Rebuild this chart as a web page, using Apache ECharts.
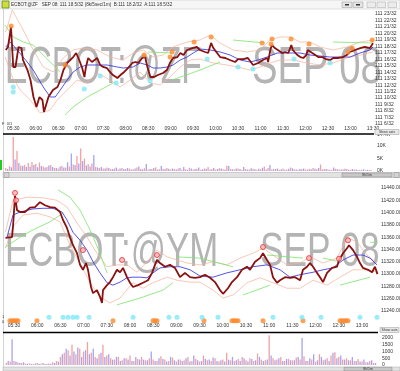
<!DOCTYPE html>
<html><head><meta charset="utf-8">
<script src="https://cdn.jsdelivr.net/npm/echarts@6/dist/echarts.min.js"></script>
<style>html,body{margin:0;padding:0;background:#fff;overflow:hidden}#c{width:400px;height:371px}</style>
</head><body><div id="c"></div><script>
// ---------- DATA (time in minutes since midnight) ----------
// Top panel: ECBOT:@ZF SEP 08, price in 32nds above 111
const zfPrice = [[320,17.44],[323,17.90],[327,21.0],[330,14.81],[333,14.81],[337,17.90],[341,17.74],[343,15.89],[349,14.34],[353,12.80],[357,10.17],[361,8.63],[365,10.17],[369,9.71],[371,7.85],[377,10.17],[383,11.25],[389,11.72],[393,12.80],[397,14.34],[402,15.43],[406,15.89],[410,16.35],[414,16.97],[418,15.89],[422,14.65],[425,13.26],[427,14.81],[430,16.20],[435,15.58],[442,16.20],[446,15.12],[450,14.81],[455,14.65],[459,14.04],[463,13.57],[469,13.11],[473,13.57],[478,14.04],[483,14.65],[489,15.43],[493,15.58],[497,15.43],[502,16.20],[506,16.35],[509,14.81],[513,13.26],[518,13.26],[523,13.57],[530,13.88],[535,14.34],[539,15.43],[543,16.20],[549,16.35],[553,16.97],[557,16.66],[562,17.44],[569,17.74],[575,17.90],[579,17.44],[586,17.13],[590,16.97],[594,18.52],[597,17.74],[602,16.97],[606,16.35],[613,16.20],[619,15.89],[626,15.58],[630,16.04],[637,16.04],[643,16.20],[650,15.12],[657,15.43],[663,15.89],[669,16.20],[670,15.58],[673,17.44],[675,18.21],[679,17.74],[683,17.44],[689,16.97],[693,17.13],[697,16.97],[701,18.21],[703,17.44],[709,16.66],[713,16.35],[717,16.20],[721,16.66],[723,17.44],[729,16.97],[733,16.66],[737,16.35],[742,16.35],[747,16.04],[753,15.89],[757,16.20],[763,16.20],[770,16.35],[775,16.66],[779,17.13],[786,17.44],[793,17.74],[799,17.90],[806,17.74],[810,18.5]];
const zfUpper = [[319.3,20.22],[322,20.99],[328.7,23.62],[343.3,20.53],[356.7,17.44],[370,14.81],[383.3,14.04],[396.7,16.20],[410,17.44],[423.3,17.74],[442,17.44],[459.3,16.35],[476.7,15.89],[490,16.97],[503.3,17.44],[516.7,16.35],[530,16.66],[543.3,17.90],[562,18.67],[579.3,18.98],[592.7,19.75],[606,18.52],[623.3,17.44],[642,17.13],[659.3,17.44],[672.7,18.98],[686,19.45],[699.3,19.45],[712.7,18.67],[726,18.67],[739.3,17.90],[756.7,17.44],[775.3,17.90],[792.7,18.67],[810,18.98]];
const zfLower = [[319.3,16.35],[328.7,13.26],[339.3,11.25],[352.7,9.71],[366,7.70],[379.3,8.16],[388.7,9.71],[402,11.25],[415.3,12.80],[428.7,12.34],[442,13.88],[459.3,12.80],[472.7,11.72],[486,12.80],[499.3,14.04],[512.7,12.34],[526,12.03],[539.3,13.26],[552.7,14.81],[566,15.89],[579.3,16.04],[596.7,15.43],[615.3,15.12],[628.7,14.81],[646,14.34],[659.3,14.81],[672.7,15.43],[686,15.89],[703.3,15.89],[722,15.43],[739.3,15.12],[756.7,15.43],[775.3,16.20],[792.7,16.66],[810,17.13]];
const zfAvg = [[320,17.90],[326,18.67],[335.3,17.44],[348.7,15.58],[356.7,14.34],[370,11.72],[379.3,10.17],[386,10.17],[392.7,11.25],[402,12.80],[410,14.04],[419.3,14.81],[428.7,15.12],[442,15.12],[455.3,15.12],[468.7,14.81],[476.7,14.65],[490,14.81],[499.3,15.43],[508.7,15.12],[516.7,14.65],[526,14.65],[535.3,14.81],[543.3,15.12],[552.7,15.89],[562,16.35],[570,16.97],[579.3,17.59],[592.7,17.44],[606,17.13],[619.3,16.66],[632.7,15.89],[646,15.58],[656.7,15.89],[668.7,16.35],[682,16.97],[695.3,16.97],[712.7,16.97],[726,16.66],[739.3,16.51],[752.7,16.35],[766,16.35],[779.3,16.35],[792.7,16.97],[806,17.44],[810,17.90]];
const zfLong = [[319,21.30],[330,19.45],[343.3,18.67],[356.7,18.21],[370,16.66],[383.3,15.12],[392.7,14.04],['-','-'],
  [399.3,7.39],[410,8.63],[428.7,10.17],[446,11.25],[463.3,12.34],['-','-'],
  [510,17.13],[542,16.97],['-','-'],[542,12.80],[579.3,14.34],[606,15.58],['-','-'],
  [623.3,18.98],[666,18.52],['-','-'],[756.7,18.67],[810,18.52]];
const zfSell = [[327.3,21.15],[399.3,15.12],[504.7,16.66],[539.3,16.35],[542,17.13],[571.3,18.67],[594,19.45],[662,18.52],[674,18.36],[675.3,19.14],[700.7,19.14],[724.7,18.36],[776.7,17.13],[782,17.74],[809,18.98]];
const zfBuy = [[330,11.72],[330,10.94],[424.7,11.41],[446,13.42],[467.3,12.34],[512.7,12.64],[588.7,16.04],[630,14.81],[650,14.50],[704.7,16.04],[752.7,15.43]];
const zfLast = 18.5;
// volume (thousands), red bars at 320+5i, blue bars at 322.5+5i
const zfVolRed = [1.2,2.0,13.6,8.0,2.2,2.5,3.2,3.6,2.8,3.4,1.8,1.6,2.4,1.2,1.0,2.0,1.4,1.8,2.6,6.0,9.0,5.0,2.8,3.0,1.6,1.2,1.0,1.4,0.8,1.0,0.6,1.2,0.8,1.0,0.7,1.4,0.9,1.1,0.6,0.8,1.5,0.7,0.9,1.2,0.6,0.8,1.0,0.5,0.7,1.3,0.6,0.9,0.5,1.0,1.6,0.8,0.6,1.1,0.7,2.2,0.8,0.6,1.0,0.5,0.8,0.6,0.9,0.5,0.7,1.8,1.2,0.6,0.8,0.5,1.0,0.6,1.4,0.7,0.5,0.8,0.6,0.9,1.2,0.7,2.6,0.8,0.6,0.5,0.9,0.6,0.7,0.8,0.5,0.6,0.4,0.5,0.3,0.4];
const zfVolBlue = [0.8,1.5,4.6,3.2,2.0,1.6,1.8,2.4,1.5,2.0,1.4,2.2,1.6,1.2,1.8,1.4,3.5,7.0,2.4,3.0,4.0,2.2,1.8,6.4,1.4,1.6,1.0,1.2,0.8,1.4,1.0,0.8,1.2,0.6,1.0,1.8,0.7,2.8,0.8,1.2,0.6,2.0,0.8,0.9,1.0,0.6,1.2,1.6,0.5,1.0,0.8,1.4,0.7,0.9,0.6,1.2,0.8,1.0,0.6,2.0,0.7,1.0,0.8,1.6,0.6,1.1,0.7,0.9,1.3,0.6,2.4,0.8,1.0,0.7,0.5,0.9,1.1,0.6,0.8,1.0,0.5,0.7,0.9,1.2,0.6,0.8,0.5,1.4,0.7,0.6,0.9,0.5,0.8,0.6,0.4,0.7,0.5,0.3];

// Bottom panel: ECBOT:@YM SEP 08
const ymPrice = [[319,11359],[327.4,11360],[328.7,11377],[331.3,11427],[333.9,11404],[337.8,11401],[344.2,11401],[350.7,11408],[357.2,11409],[363.6,11417],[370.1,11412],[376.6,11409],[383,11408],[389.5,11401],[393.4,11388],[398.5,11375],[402.4,11360],[406.3,11347],[411.5,11334],[415.4,11315],[419.2,11307],[423.1,11318],[425.7,11307],[429.6,11279],[432.2,11269],[437.3,11274],[441.2,11263],[443.8,11253],[445.1,11274],[450.3,11282],[454.1,11287],[458,11295],[463.2,11307],[467.1,11303],[471,11310],[476.1,11295],[480,11286],[483.9,11279],[490.4,11282],[496.8,11286],[503.3,11290],[508.5,11302],[512.3,11315],[514.9,11323],[518.8,11318],[525.3,11312],[531.7,11315],[538.2,11310],[544.7,11295],[551.1,11302],[557.6,11295],[564.1,11294],[570.5,11295],[577,11299],[583.5,11294],[589.9,11287],[596.4,11274],[600.3,11268],[606.7,11277],[611.9,11287],[618.4,11295],[624.8,11307],[631.3,11312],[635.2,11307],[641.7,11320],[648.1,11326],[652,11334],[657.2,11323],[661.1,11315],[664.9,11295],[670.1,11286],[674,11290],[680.5,11295],[686.9,11294],[693.4,11295],[699.9,11290],[703.7,11307],[708.9,11312],[712.8,11318],[716.7,11312],[721.8,11302],[725.7,11295],[729.6,11287],[734.8,11302],[741.3,11310],[747.7,11312],[750.3,11323],[755.5,11334],[760.6,11342],[763.2,11347],[768.4,11339],[773.6,11328],[777.4,11318],[781.3,11310],[787.8,11307],[793,11303],[796.8,11312],[800,11300]];
const ymUpper = [[319,11368],[328.7,11420],[346.8,11425],[367.5,11424],[385.6,11420],[398.5,11409],[411.5,11383],[424.4,11360],[437.3,11334],[450.3,11312],[463.2,11315],[476.1,11315],[489.1,11303],[502,11320],[514.9,11339],[527.9,11328],[540.8,11323],[553.7,11318],[570.5,11315],[587.3,11320],[605.4,11315],[622.3,11326],[639.1,11334],[652,11342],[664.9,11331],[683,11315],[699.9,11318],[712.8,11328],[729.6,11318],[747.7,11326],[760.6,11360],[773.6,11352],[786.5,11331],[799.4,11318]];
const ymLower = [[319,11342],[328.7,11377],[341.6,11396],[359.7,11399],[376.6,11393],[389.5,11385],[402.4,11347],[415.4,11318],[428.3,11286],[441.2,11263],[454.1,11253],[467.1,11261],[483.9,11286],[496.8,11277],[509.8,11286],[527.9,11295],[540.8,11290],[557.6,11287],[570.5,11287],[587.3,11274],[600.3,11261],[613.2,11266],[631.3,11286],[648.1,11294],[664.9,11286],[683,11277],[699.9,11277],[716.7,11290],[734.8,11282],[751.6,11295],[768.4,11307],[786.5,11307],[799.4,11303]];
const ymAvg = [[321,11360],[328.7,11396],[337.8,11401],[354.6,11406],[367.5,11407],[380.4,11407],[392.1,11401],[398.5,11388],[406.3,11368],[415.4,11355],[424.4,11339],[432.2,11320],[441.2,11302],[450.3,11286],[458,11282],[467.1,11287],[476.1,11294],[483.9,11295],[493,11295],[502,11294],[509.8,11302],[518.8,11310],[531.7,11312],[544.7,11312],[557.6,11307],[570.5,11297],[587.3,11295],[605.4,11302],[622.3,11307],[639.1,11312],[657.2,11315],[674,11307],[686.9,11295],[699.9,11299],[716.7,11303],[729.6,11307],[742.5,11310],[755.5,11323],[768.4,11331],[781.3,11331],[790.4,11326],[799.4,11315]];
const ymLong = [[319,11344],[337.8,11360],[354.6,11372],[376.6,11385],[393.4,11399],['-','-'],
  [386.9,11437],[402.4,11425],[415.4,11404],[428.3,11372],[441.2,11334],[450.3,11302],['-','-'],
  [463.2,11250],[493,11261],[522.7,11274],[535.6,11286],['-','-'],
  [540.8,11328],[570.5,11326],[613.2,11312],['-','-'],[626.1,11266],[661.1,11282],['-','-'],
  [657.2,11331],[703.7,11326],['-','-'],[729.6,11326],[751.6,11320],['-','-'],
  [751.6,11282],[790.4,11295],['-','-'],[790.4,11352],[800,11351]];
const ymSell = [[331.3,11432],[332.6,11420],[419.2,11339],[469.7,11323],[514.9,11331],[652,11344],[711.5,11326],[750.3,11325],[761.9,11355]];
const ymRowSell = [324.8,327.4,330,332.6,335.2,359.7,458,509.8,512.3,514.9,575.7,611.9,614.5,617.1,619.7,652,703.7,751.6,754.2,756.8,759.3,761.9];
const ymRowBuy = [375.3,393.4,399.8,406.3,411.5,427,483.9,530.4,540.8,573.1,593.8,664.9,702.4,727,777.4,799.4];
const ymLast = 11300;
const ymVolRed = [150,250,300,200,150,100,120,80,150,100,80,120,200,300,600,900,1100,1500,800,1200,1000,1700,900,600,800,1500,700,500,400,600,350,500,700,300,450,600,350,500,400,300,650,400,300,550,250,400,350,600,300,450,250,700,350,300,500,250,400,900,350,300,450,600,350,500,300,850,400,350,2200,500,400,600,300,450,350,550,400,650,300,400,250,800,350,500,700,950,600,400,500,350,300,450,250,200,300,150];
const ymVolBlue = [300,1900,250,150,200,100,80,120,100,150,80,100,150,250,800,1200,700,1000,1300,600,1100,800,1200,500,900,600,800,400,600,300,500,400,300,600,400,400,350,1000,300,500,450,250,600,350,400,300,500,250,700,350,300,450,400,550,300,350,250,400,600,350,300,500,250,450,350,600,300,400,700,350,500,300,450,350,350,600,2000,300,500,800,350,600,400,300,900,500,700,400,350,600,300,250,400,200,350,150];

// ---------- CHART ----------
const fmtTime = v => {
  if (Math.round(v) % 30 !== 0) return '';
  const h = Math.floor(v / 60), m = Math.round(v % 60);
  return (h < 10 ? '0' : '') + h + ':' + (m < 10 ? '0' : '') + m;
};
const lab = {fontSize: 5, color: '#333', fontFamily: 'Liberation Sans'};
const noLine = {show: false};
const chart = echarts.init(document.getElementById('c'), null, {renderer: 'canvas'});

function line(data, xi, color, width, z) {
  return {type: 'line', xAxisIndex: xi, yAxisIndex: xi, data, symbol: 'none', z: z || 2,
    lineStyle: {color, width}, connectNulls: false, silent: true};
}
function dots(data, xi, color, size, border) {
  return {type: 'scatter', xAxisIndex: xi, yAxisIndex: xi, data, symbolSize: size, z: 6, silent: true,
    itemStyle: border ? {color: color, borderColor: border, borderWidth: 1} : {color: color}};
}
function vol(vals, start, xi, color) {
  return {type: 'bar', xAxisIndex: xi, yAxisIndex: xi, barWidth: 1.3, barGap: '-100%', silent: true,
    data: vals.map((v, i) => [start + 5 * i, v]), itemStyle: {color}};
}
const lastMark = (val, text) => ({symbol: 'none', silent: true, data: [{yAxis: val}],
  lineStyle: {opacity: 0}, label: {show: true, position: 'end', formatter: text, color: '#fff',
  backgroundColor: '#000', fontSize: 5, padding: [1, 2], distance: 2}});

const zfPriceSeries = line(zfPrice, 0, '#8b1010', 1.8, 4);
zfPriceSeries.markLine = lastMark(zfLast, '111 18/32');
const ymPriceSeries = line(ymPrice, 2, '#8b1010', 1.8, 4);
ymPriceSeries.markLine = lastMark(ymLast, '11 297');

const option = {
  animation: false,
  grid: [
    {left: 2, top: 7.53, width: 371, height: 119.7, containLabel: false, outerBoundsMode: 'none'},
    {left: 2, top: 135, width: 371, height: 36, containLabel: false, outerBoundsMode: 'none'},
    {left: 2.4, top: 175.7, width: 375.6, height: 147.6, containLabel: false, outerBoundsMode: 'none'},
    {left: 2.4, top: 334, width: 375.6, height: 31, containLabel: false, outerBoundsMode: 'none'}
  ],
  xAxis: [
    {type: 'value', gridIndex: 0, min: 315, max: 810, interval: 15, axisLine: noLine, axisTick: noLine, splitLine: noLine,
      axisLabel: Object.assign({formatter: fmtTime, margin: -1}, lab)},
    {type: 'value', gridIndex: 1, min: 315, max: 810, interval: 15, show: false},
    {type: 'value', gridIndex: 2, min: 315, max: 800.7, interval: 15, axisLine: noLine, axisTick: noLine, splitLine: noLine,
      axisLabel: Object.assign({formatter: fmtTime, margin: 0}, lab)},
    {type: 'value', gridIndex: 3, min: 315, max: 800.7, interval: 15, show: false}
  ],
  yAxis: [
    {type: 'value', gridIndex: 0, position: 'right', min: 5.5, max: 24, interval: 0.5, axisLine: noLine, axisTick: noLine, splitLine: noLine,
      axisLabel: Object.assign({margin: 2, formatter: v => {
        const r = Math.round(v); if (Math.abs(v - r) > 0.01 || r < 6 || r > 23) return ''; return '111 ' + r + '/32';}}, lab)},
    {type: 'value', gridIndex: 1, position: 'right', min: 0, max: 14.4, interval: 5, axisLine: noLine, axisTick: noLine, splitLine: noLine,
      axisLabel: Object.assign({margin: 4, formatter: v => v + 'K'}, lab)},
    {type: 'value', gridIndex: 2, position: 'right', min: 11220, max: 11460, interval: 20, axisLine: noLine, axisTick: noLine, splitLine: noLine,
      axisLabel: Object.assign({margin: 3, formatter: v => (v < 11240 || v > 11440) ? '' : v.toFixed(2)}, lab)},
    {type: 'value', gridIndex: 3, position: 'right', min: 0, max: 2296, interval: 500, axisLine: noLine, axisTick: noLine, splitLine: noLine,
      axisLabel: Object.assign({margin: 4, formatter: v => String(v)}, lab)}
  ],
  series: [
    line(zfUpper, 0, '#f6b09a', 0.7), line(zfLower, 0, '#f6b09a', 0.7),
    line(zfLong, 0, '#7be36b', 0.8), line(zfAvg, 0, '#2a2ae0', 0.8, 3),
    zfPriceSeries,
    dots(zfSell, 0, '#ff8a2a', 5), dots(zfBuy, 0, '#7fe8f6', 5),
    vol(zfVolRed, 320, 1, '#f4a0a0'), vol(zfVolBlue, 322.5, 1, '#a4a4f2'),
    line(ymUpper, 2, '#f6b09a', 0.7), line(ymLower, 2, '#f6b09a', 0.7),
    line(ymLong, 2, '#7be36b', 0.8), line(ymAvg, 2, '#2a2ae0', 0.8, 3),
    ymPriceSeries,
    dots(ymSell, 2, '#ffb0b0', 5, '#e83030'),
    dots(ymRowSell.map(t => [t, 11224]), 2, '#ff8a2a', 5),
    dots(ymRowBuy.map(t => [t, 11230]), 2, '#7fe8f6', 5),
    vol(ymVolRed, 320, 3, '#f4a0a0'), vol(ymVolBlue, 322.5, 3, '#a4a4f2')
  ],
  graphic: [
    // watermarks
    {type: 'text', x: 5, y: 68.5, scaleX: 0.66, z: 0, silent: true, style: {text: 'ECBOT:@ZF', fontSize: 51, fontFamily: 'Liberation Sans', fill: '#b4b4b4', verticalAlign: 'middle'}},
    {type: 'text', x: 252, y: 68.5, scaleX: 0.75, z: 0, silent: true, style: {text: 'SEP 08', fontSize: 51, fontFamily: 'Liberation Sans', fill: '#b4b4b4', verticalAlign: 'middle'}},
    {type: 'text', x: 5, y: 252.5, scaleX: 0.71, z: 0, silent: true, style: {text: 'ECBOT:@YM', fontSize: 49, fontFamily: 'Liberation Sans', fill: '#b4b4b4', verticalAlign: 'middle'}},
    {type: 'text', x: 260, y: 252.5, scaleX: 0.72, z: 0, silent: true, style: {text: 'SEP 08', fontSize: 49, fontFamily: 'Liberation Sans', fill: '#b4b4b4', verticalAlign: 'middle'}},
    // title bar
    {type: 'rect', z: 100, shape: {x: 0, y: 0, width: 400, height: 9}, style: {fill: '#f6f6f6', stroke: '#cfcfcf', lineWidth: 0.6}},
    {type: 'rect', z: 101, shape: {x: 2, y: 1, width: 7, height: 7}, style: {fill: '#cfdc3a', stroke: '#5d8a1e', lineWidth: 0.8}},
    {type: 'text', z: 101, x: 11, y: 4.7, style: {text: 'ECBOT:@ZF   SEP 08: 111 18.5/32 (8k/5sec/1m)  B:111 18.2/32  A:111 18.5/32', fontSize: 4.6, fontFamily: 'Liberation Sans', fill: '#333', verticalAlign: 'middle'}},
    {type: 'rect', z: 101, shape: {x: 342, y: 2, width: 10, height: 5.5}, style: {fill: '#e4e4e4', stroke: '#999', lineWidth: 0.5}},
    {type: 'rect', z: 101, shape: {x: 353, y: 2, width: 10, height: 5.5}, style: {fill: '#e4e4e4', stroke: '#999', lineWidth: 0.5}},
    {type: 'rect', z: 101, shape: {x: 367, y: 2, width: 8.5, height: 5.5}, style: {fill: '#ececec', stroke: '#aaa', lineWidth: 0.5}},
    {type: 'rect', z: 101, shape: {x: 377, y: 2, width: 8.5, height: 5.5}, style: {fill: '#ececec', stroke: '#aaa', lineWidth: 0.5}},
    {type: 'rect', z: 101, shape: {x: 388, y: 2, width: 8.5, height: 5.5}, style: {fill: '#ececec', stroke: '#aaa', lineWidth: 0.5}},
    {type: 'rect', z: 102, shape: {x: 345, y: 4, width: 4, height: 1.5}, style: {fill: '#333'}},
    {type: 'rect', z: 102, shape: {x: 356, y: 4, width: 4, height: 1.5}, style: {fill: '#333'}},
    // left frame
    {type: 'line', z: 100, shape: {x1: 3.5, y1: 9, x2: 3.5, y2: 371}, style: {stroke: '#c8c8c8', lineWidth: 0.8}},
    {type: 'rect', z: 100, shape: {x: 0, y: 160, width: 2, height: 10}, style: {fill: '#22cc22'}},
    {type: 'text', z: 100, x: 2, y: 124, style: {text: 'F  0/1', fontSize: 4, fill: '#333', verticalAlign: 'middle'}},
    {type: 'text', z: 100, x: 2, y: 317, style: {text: '1', fontSize: 4, fill: '#333', verticalAlign: 'middle'}},
    {type: 'text', z: 100, x: 2, y: 322, style: {text: '0', fontSize: 4, fill: '#333', verticalAlign: 'middle'}},
    // separators
    {type: 'line', z: 100, shape: {x1: 3, y1: 134, x2: 374, y2: 134}, style: {stroke: '#000', lineWidth: 1.4}},
    {type: 'line', z: 100, shape: {x1: 3, y1: 332.5, x2: 378, y2: 332.5}, style: {stroke: '#000', lineWidth: 1.4}},
    {type: 'rect', z: 100, shape: {x: 375, y: 129.5, width: 24, height: 5}, style: {fill: '#e8e8e8', stroke: '#999', lineWidth: 0.5}},
    {type: 'text', z: 101, x: 387, y: 132, style: {text: 'Show axis', fontSize: 3.5, fill: '#333', align: 'center', verticalAlign: 'middle'}},
    {type: 'rect', z: 100, shape: {x: 380, y: 327.5, width: 19, height: 5}, style: {fill: '#e8e8e8', stroke: '#999', lineWidth: 0.5}},
    {type: 'text', z: 101, x: 389.5, y: 330, style: {text: 'Show axis', fontSize: 3.5, fill: '#333', align: 'center', verticalAlign: 'middle'}},
    // scroll bars
    {type: 'rect', z: 100, shape: {x: 3, y: 172.5, width: 397, height: 5}, style: {fill: '#e2e2e2', stroke: '#aaa', lineWidth: 0.5}},
    {type: 'rect', z: 101, shape: {x: 4, y: 172.5, width: 5, height: 5}, style: {fill: '#d4d4d4', stroke: '#888', lineWidth: 0.5}},
    {type: 'rect', z: 101, shape: {x: 342, y: 173, width: 50, height: 4}, style: {fill: '#c8c8c8', stroke: '#888', lineWidth: 0.5}},
    {type: 'text', z: 102, x: 367, y: 175, style: {text: '8h/1m', fontSize: 3.5, fill: '#333', align: 'center', verticalAlign: 'middle'}},
    {type: 'rect', z: 101, shape: {x: 394, y: 172.5, width: 5, height: 5}, style: {fill: '#d4d4d4', stroke: '#888', lineWidth: 0.5}},
    {type: 'rect', z: 100, shape: {x: 3, y: 367, width: 397, height: 4}, style: {fill: '#e2e2e2', stroke: '#aaa', lineWidth: 0.5}},
    {type: 'rect', z: 101, shape: {x: 344, y: 367.3, width: 48, height: 3.5}, style: {fill: '#c8c8c8', stroke: '#888', lineWidth: 0.5}},
    {type: 'text', z: 102, x: 368, y: 369.2, style: {text: '8h/1m', fontSize: 3.5, fill: '#333', align: 'center', verticalAlign: 'middle'}}
  ]
};
chart.setOption(option);
</script></body></html>
